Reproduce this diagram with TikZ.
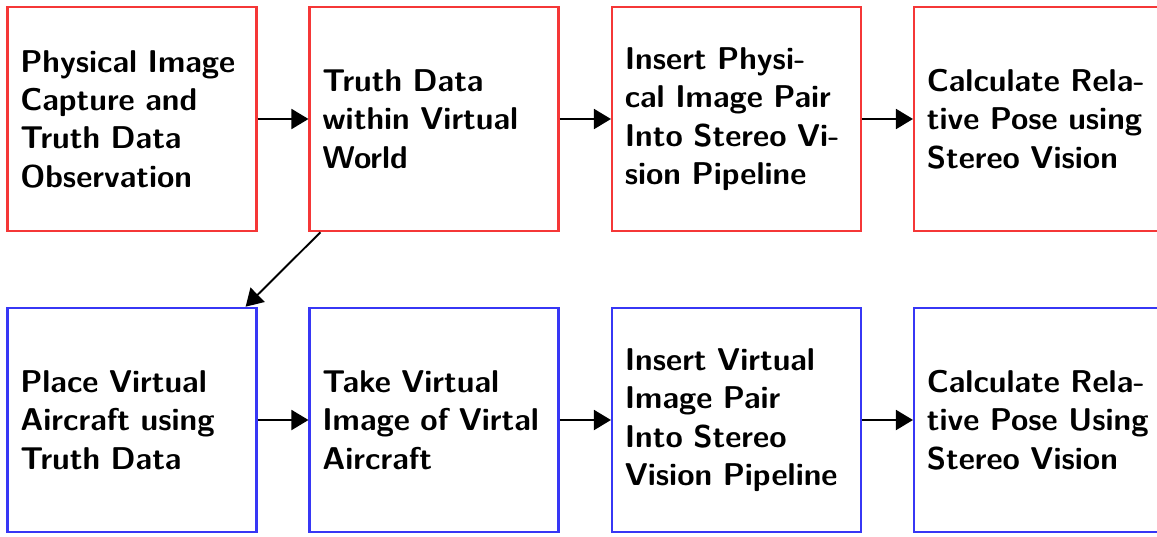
\documentclass[tikz,border=0pt]{standalone}
\usetikzlibrary{arrows.meta}
\definecolor{boxred}{RGB}{245,55,55}
\definecolor{boxblue}{RGB}{55,55,245}
\begin{document}
\begin{tikzpicture}[x=0.47pt,y=-0.47pt,
  procbox/.style={draw, line width=1pt, minimum width=117pt, minimum height=105.5pt,
    text width=107pt, inner xsep=5pt, inner ysep=6pt, align=left,
    font=\sffamily\bfseries\fontsize{14.8}{18}\selectfont},
  redbox/.style={procbox, draw=boxred},
  bluebox/.style={procbox, draw=boxblue},
  flow/.style={line width=0.9pt, -{Triangle[length=8pt,width=9.4pt]}}]
\useasboundingbox (0,0) rectangle (1157,536);
\node[redbox] (a) at (132,119) {\hspace*{1pt}Physical Image\\\hspace*{1pt}Capture and\\\hspace*{1pt}Truth Data\\\hspace*{1pt}Observation};
\node[redbox] (b) at (434,119) {\hspace*{1pt}Truth Data\\\hspace*{1pt}within Virtual\\\hspace*{1pt}World};
\node[redbox] (c) at (736.5,119) {\hspace*{1pt}Insert Physi-\\\hspace*{1pt}cal Image Pair\\\hspace*{1pt}Into Stereo Vi-\\\hspace*{1pt}sion Pipeline};
\node[redbox] (d) at (1038.5,119) {\hspace*{1pt}Calculate Rela-\\\hspace*{1pt}tive Pose using\\\hspace*{1pt}Stereo Vision};
\node[bluebox] (e) at (132,420) {\hspace*{1pt}Place Virtual\\\hspace*{1pt}Aircraft using\\\hspace*{1pt}Truth Data};
\node[bluebox] (f) at (434,420) {\hspace*{1pt}Take Virtual\\\hspace*{1pt}Image of Virtal\\\hspace*{1pt}Aircraft};
\node[bluebox] (g) at (736.5,420) {\hspace*{1pt}Insert Virtual\\\hspace*{1pt}Image Pair\\\hspace*{1pt}Into Stereo\\\hspace*{1pt}Vision Pipeline};
\node[bluebox] (h) at (1038.5,420) {\hspace*{1pt}Calculate Rela-\\\hspace*{1pt}tive Pose Using\\\hspace*{1pt}Stereo Vision};
\draw[flow] (a) -- (b);
\draw[flow] (b) -- (c);
\draw[flow] (c) -- (d);
\draw[flow] (b) -- (e);
\draw[flow] (e) -- (f);
\draw[flow] (f) -- (g);
\draw[flow] (g) -- (h);
\end{tikzpicture}
\end{document}
